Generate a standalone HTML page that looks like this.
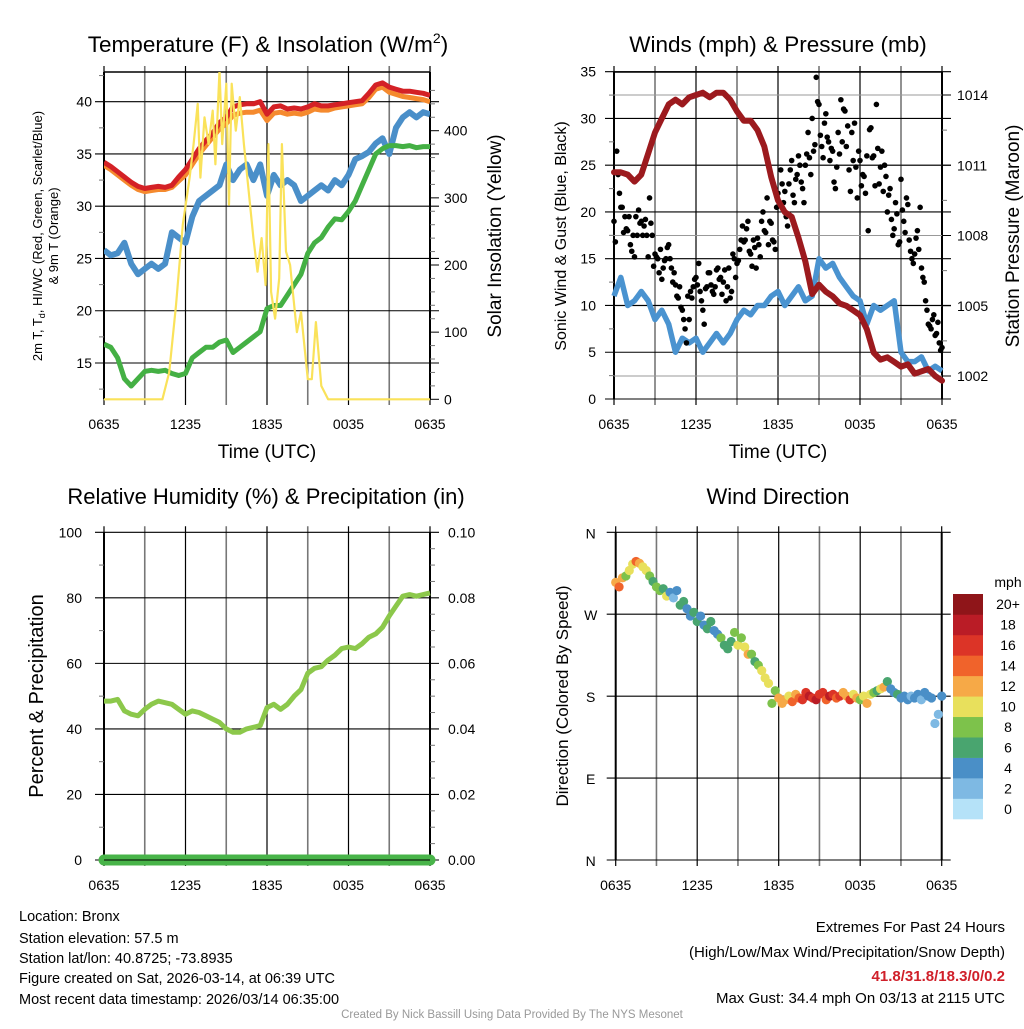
<!DOCTYPE html>
<html><head><meta charset="utf-8"><style>
html,body{margin:0;padding:0;background:#fff;}
svg text{font-family:"Liberation Sans",Arial,sans-serif;fill:#000;}
</style></head><body>
<svg id="fig" xmlns="http://www.w3.org/2000/svg" width="1024" height="1024" viewBox="0 0 1024 1024">
<rect x="0" y="0" width="1024" height="1024" fill="#fff"/>
<g id="p1"></g>
<g id="p2"></g>
<g id="p3"></g>
<g id="p4"></g>
<g id="info" font-size="14.5">
<text x="19" y="921">Location: Bronx</text>
<text x="19" y="943">Station elevation: 57.5 m</text>
<text x="19" y="963">Station lat/lon: 40.8725; -73.8935</text>
<text x="19" y="983">Figure created on Sat, 2026-03-14, at 06:39 UTC</text>
<text x="19" y="1004">Most recent data timestamp: 2026/03/14 06:35:00</text>
</g>
<g font-size="15" text-anchor="end">
<text x="1005" y="932">Extremes For Past 24 Hours</text>
<text x="1005" y="957">(High/Low/Max Wind/Precipitation/Snow Depth)</text>
<text x="1005" y="981" style="fill:#d0202a;font-weight:bold">41.8/31.8/18.3/0/0.2</text>
<text x="1005" y="1003">Max Gust: 34.4 mph On 03/13 at 2115 UTC</text>
</g>
<text x="512" y="1018" text-anchor="middle" font-size="11.5" style="fill:#999">Created By Nick Bassill Using Data Provided By The NYS Mesonet</text>
</svg>
<script>
// ---------- DATA ----------
const xTickLabels = ["0635","1235","1835","0035","0635"];
// Panel 1 (every 0.5 h from 0635)
const tempRed = [34.2,33.8,33.3,32.8,32.3,31.9,31.7,31.8,31.9,31.8,32.0,32.8,33.5,34.5,35.5,36.3,37.0,38.0,38.5,39.5,39.7,39.8,39.8,40.0,38.8,39.5,39.6,39.3,39.4,39.3,39.5,39.8,39.6,39.6,39.7,39.8,39.9,40.0,40.1,40.8,41.6,41.8,41.4,41.2,41.0,41.0,40.9,40.8,40.6];
const temp9m = [33.9,33.5,33.0,32.5,32.0,31.6,31.4,31.5,31.6,31.6,31.8,32.4,33.0,34.0,35.0,35.8,36.6,37.4,37.9,38.7,38.9,39.0,39.0,39.2,38.2,38.9,39.0,38.8,38.9,38.8,39.0,39.3,39.2,39.2,39.4,39.5,39.6,39.7,39.8,40.4,41.2,41.4,40.9,40.7,40.5,40.4,40.3,40.2,40.0];
const windChill = [25.8,25.3,25.5,26.5,24.5,23.5,24.0,24.5,24.0,24.5,27.5,27.0,26.5,29.0,30.5,31.0,31.5,32.0,34.0,32.5,33.5,34.0,32.5,34.0,31.0,33.0,32.0,32.5,32.0,30.5,31.0,31.5,32.0,31.5,32.5,32.0,33.0,34.5,34.8,35.2,36.0,36.5,35.0,37.5,38.5,39.0,38.5,39.0,38.8];
const dewpoint = [16.8,16.5,15.5,13.5,12.8,13.5,14.2,14.3,14.2,14.3,14.0,13.8,14.0,15.5,16.0,16.5,16.5,17.0,17.2,16.0,16.5,17.0,17.5,18.0,20.2,20.5,20.5,21.5,22.5,23.5,25.5,26.5,27.0,28.0,28.8,28.7,29.5,30.5,32.0,33.5,35.0,35.5,35.8,35.8,35.7,35.8,35.6,35.7,35.7];
const solarTimes = [0,4.3,4.8,5.3,5.8,6.3,6.6,6.9,7.1,7.4,7.7,8.0,8.2,8.5,8.7,9.0,9.2,9.4,9.7,10.0,10.3,10.6,11.0,11.3,11.6,11.9,12.1,12.3,12.6,12.9,13.1,13.4,13.7,14.0,14.2,14.5,14.7,15.0,15.3,15.6,16.0,16.5,24];
const solarVals = [0,0,40,140,260,330,380,440,330,420,380,430,350,490,380,470,290,470,400,450,380,320,240,190,240,170,380,160,120,180,380,220,200,140,100,130,90,30,30,115,20,0,0];
const p1LeftTicks = [15,20,25,30,35,40];
const p1RightTicks = [0,100,200,300,400];
// Panel 2
const pressure = [1010.7,1010.7,1010.6,1010.3,1010.6,1011.5,1012.4,1013.0,1013.6,1013.8,1013.6,1013.9,1014.0,1014.1,1013.9,1014.1,1014.1,1013.8,1013.3,1012.9,1012.9,1012.5,1011.8,1010.5,1009.5,1009.0,1008.8,1007.9,1006.9,1005.5,1005.9,1005.6,1005.4,1005.1,1005.0,1004.8,1004.6,1004.0,1003.0,1002.7,1002.8,1002.6,1002.4,1002.5,1002.1,1002.2,1002.3,1002.0,1001.8];
const windSpeed = [11,13,10,10.5,11.5,10.5,8.5,9.5,8,5,6.5,6,6.5,5,6,7,6,7,8.5,9.5,9,10,10,11,11.5,10,11,12,10.5,11,15,14,14.5,13,12,11,10.5,8,10,9.5,10,10.5,5,4,4,4.5,3,3.5,3];
const gustA = [19,26.5,22,20.5,19.5,18,16.5,17.5,19.5,20.2,19,18.5,17.5,21.5,17.5,15.5,15,16,14,15,16.5,14,13.5,11,12,9.5,7.5,11,11.5,12,13,14.5,10.5,8,12,13.5,11.5,12,14,13,12.5,10.5,14,11.5,15,14.5,16,18.5,17,19,15.5,17,14,16.5,19,18,21.5,19,17,16,22,24.5,21,19.5,23,25.5,21,24,25,22.5,25,28.5,24,26.5,34.4,31.5,27,29.5,28,25.5,26.5,22.5,28.5,32,31,27,24.5,28.5,29.5,21.5,25.5,24,22,18,29,26,31.5,23,26.5,25,20,22.5,17.5,21,16.5,23.5,19,21.5,17,15,15.5,18,20.5,13,10.5,8,7.5,9,7,6,5.5];
const gustB = [16.8,24,20.5,17.8,18.2,19.5,15.8,15.2,17.5,18.8,17.5,19.2,15.2,18.8,14.2,15.2,13.5,12.8,14.8,16.2,15,12.5,12.2,10.8,9.8,8.5,6,8.5,10.8,12.8,12.2,11.5,9.5,11.8,13.5,12.2,11.2,13.8,12.8,11.2,13.8,12,10.8,15.5,13,14.8,17,16.8,18.2,15.8,14.2,16.2,17.2,15.2,20,17.8,16.5,18.8,16.8,20.5,20.8,23,22.2,18.5,24.5,21.8,23.5,26,23.2,21,26.2,25.8,30,27.2,31.8,28.2,25.8,30.5,27.5,26.8,23.2,24.8,26.2,27.5,30.8,29.2,22.2,25.5,24.8,26.5,22.8,23.8,26,28.8,25.8,22.8,26.8,24.8,22.2,23.8,21.8,19.2,18.2,19.8,16.8,20.2,17.8,20.8,15.8,14.5,17.2,16,14,12.5,9.5,7.8,8.5,6.8,8.2,5.2];
const p2LeftTicks = [0,5,10,15,20,25,30,35];
const p2RightTicks = [1002,1005,1008,1011,1014];
// Panel 3
const relHum = [48.5,48.5,49,45.5,44.5,44,46,47.5,48.5,48,47.5,46,44.5,45.5,45,44,43,42,40,39,39,40,40.5,41,46.5,47.5,46,47.5,50,52,57,58.5,59,61,62.5,64.5,65,64.5,66,68,69,71,74.5,77.5,80.5,81,80.5,81,81.5];
const precip = [0,0,0,0,0,0,0,0,0,0,0,0,0,0,0,0,0,0,0,0,0,0,0,0,0];
const p3LeftTicks = [0,20,40,60,80,100];
const p3RightTicks = ["0.00","0.02","0.04","0.06","0.08","0.10"];
// Panel 4 (every 0.25 h)
const windDir = [305,300,310,312,318,325,328,326,322,318,312,306,300,296,298,290,294,288,296,280,284,276,268,272,262,268,258,254,262,252,248,244,236,232,240,250,236,244,234,226,226,218,214,208,200,194,172,186,178,172,176,180,174,182,178,176,184,180,178,176,182,184,176,180,182,178,180,184,180,176,182,178,176,180,172,182,184,186,188,190,196,188,184,182,178,180,176,180,178,182,176,184,180,178,150,160,180];
const dirSpeed = [12,14,13,9,11,10,14,12,10,11,8,7,9,8,6,10,4,3,5,7,6,4,5,6,7,5,4,6,7,5,4,8,7,6,7,8,10,8,11,13,8,7,9,10,10,11,8,9,12,13,12,10,14,13,15,16,17,18,16,19,16,17,15,18,17,15,16,13,12,16,11,13,8,10,12,10,9,6,10,12,7,5,4,6,4,5,4,3,4,5,3,4,4,5,2,2,4];
const dirTickLabels = ["N","E","S","W","N"];
const cbarLabels = ["0","2","4","6","8","10","12","14","16","18","20+"];
const cbarColors = ["#b5e2f8","#7eb9e3","#4a8fc7","#49a56f","#7dc24b","#e8e05c","#f6a947","#f0632b","#dc3427","#ba1c26","#8f1519"];

// ---------- HELPERS ----------
const NS="http://www.w3.org/2000/svg";
function mk(parent,tag,attrs,txt){const e=document.createElementNS(NS,tag);for(const k in attrs)e.setAttribute(k,attrs[k]);if(txt!==undefined)e.textContent=txt;parent.appendChild(e);return e;}
function linScale(d0,d1,r0,r1){return v=>r0+(v-d0)*(r1-r0)/(d1-d0);}
function pathFrom(xs,ys){let d="";for(let i=0;i<xs.length;i++)d+=(i?"L":"M")+xs[i].toFixed(1)+","+ys[i].toFixed(1);return d;}
function idxTimes(arr){return arr.map((v,i)=>i*24/(arr.length-1));}

function frame(g,L,R,T,B,xs,opts){
  for(let k=0;k<=8;k++){const x=xs(k*3);
    const l=mk(g,"line",{x1:x,x2:x,y1:T-6,y2:B+6,stroke:k%2?"#777":"#000","stroke-width":k%2?1.6:1.2});
    }
  xTickLabels.forEach((s,i)=>{const t=mk(g,"text",{x:xs(i*6),y:B+30,"text-anchor":"middle","font-size":14},s);
    });
  if(opts.top){const l=mk(g,"line",{x1:L,x2:R,y1:T,y2:T,stroke:"#000","stroke-width":1.5});}
  mk(g,"line",{x1:L,x2:L,y1:T,y2:B,stroke:"#000","stroke-width":2});
  mk(g,"line",{x1:R,x2:R,y1:T,y2:B,stroke:"#000","stroke-width":2});
}
function hgrid(g,L,R,y,name){const l=mk(g,"line",{x1:L-9,x2:R+9,y1:y,y2:y,stroke:"#000","stroke-width":1.1});
  }
function minor(g,x,y,dir){mk(g,"line",{x1:x,x2:x+dir*5,y1:y,y2:y,stroke:"#777","stroke-width":1});}

// ---------- PANEL 1 ----------
(function(){
 const g=document.getElementById("p1");const L=104,R=430,T=72,B=399;
 const xs=linScale(0,24,L,R), yT=linScale(15,40,363,101.7), yS=linScale(0,400,399.3,130.7);
 frame(g,L,R,T,B,xs,{top:true});
 p1LeftTicks.forEach(v=>{hgrid(g,L,R,yT(v),'y-grid-line');const t=mk(g,"text",{x:L-12,y:yT(v)+5,"text-anchor":"end","font-size":14},v);});
 for(let v=12.5;v<43;v+=5)minor(g,L,yT(v),-1);
 p1RightTicks.forEach(v=>{mk(g,"line",{x1:R,x2:R+9,y1:yS(v),y2:yS(v),stroke:"#000"});const t=mk(g,"text",{x:R+14,y:yS(v)+5,"font-size":14},v);});
 for(let v=20;v<480;v+=20)if(v%100)minor(g,R,yS(v),1);
 const cp=mk(g,"clipPath",{id:"c1"});mk(cp,"rect",{x:L,y:T,width:R-L,height:B-T+3});
 const pg=mk(g,"g",{"clip-path":"url(#c1)"});
 const s1=mk(pg,"path",{d:pathFrom(idxTimes(windChill).map(xs),windChill.map(yT)),fill:"none",stroke:"#4a8fc9","stroke-width":6,"stroke-linejoin":"round"});
 
 const s2=mk(pg,"path",{d:pathFrom(idxTimes(dewpoint).map(xs),dewpoint.map(yT)),fill:"none",stroke:"#44b044","stroke-width":5,"stroke-linejoin":"round"});
 
 const s3=mk(pg,"path",{d:pathFrom(idxTimes(temp9m).map(xs),temp9m.map(yT)),fill:"none",stroke:"#f58a2e","stroke-width":5,"stroke-linejoin":"round"});
 
 const s4=mk(pg,"path",{d:pathFrom(idxTimes(tempRed).map(xs),tempRed.map(yT)),fill:"none",stroke:"#d42126","stroke-width":5,"stroke-linejoin":"round"});
 
 const s5=mk(pg,"path",{d:pathFrom(solarTimes.map(xs),solarVals.map(yS)),fill:"none",stroke:"#fae25a","stroke-width":2.2,"stroke-linejoin":"round"});
 
 const tt=mk(g,"text",{x:268,y:52,"text-anchor":"middle","font-size":22.5});
 tt.innerHTML='Temperature (F) &amp; Insolation (W/m<tspan dy="-9" font-size="14">2</tspan><tspan dy="9">)</tspan>';
 const xt=mk(g,"text",{x:267,y:458,"text-anchor":"middle","font-size":19},"Time (UTC)");
 const yl=mk(g,"text",{transform:"translate(42,236) rotate(-90)","text-anchor":"middle","font-size":13});
 yl.innerHTML='2m T, T<tspan dy="3" font-size="9">d</tspan><tspan dy="-3">, HI/WC (Red, Green, Scarlet/Blue)</tspan>';
 const yl2=mk(g,"text",{transform:"translate(58,236) rotate(-90)","text-anchor":"middle","font-size":13},"& 9m T (Orange)");
 const yr=mk(g,"text",{transform:"translate(501,236) rotate(-90)","text-anchor":"middle","font-size":19},"Solar Insolation (Yellow)");
})();

// ---------- PANEL 2 ----------
(function(){
 const g=document.getElementById("p2");const L=614,R=942,T=72,B=399;
 const xs=linScale(0,24,L,R), yW=linScale(0,35,399,71.7), yP=linScale(1002,1014,376,95);
 frame(g,L,R,T,B,xs,{top:true});
 p2RightTicks.forEach(v=>{mk(g,"line",{x1:L,x2:R,y1:yP(v),y2:yP(v),stroke:"#999","stroke-width":1});});
 p2LeftTicks.forEach(v=>{hgrid(g,L,R,yW(v),'y-grid-line');const t=mk(g,"text",{x:L-18,y:yW(v)+5,"text-anchor":"end","font-size":14},v);});
 for(let v=2.5;v<35;v+=5)minor(g,L,yW(v),-1);
 p2RightTicks.forEach(v=>{mk(g,"line",{x1:R,x2:R+9,y1:yP(v),y2:yP(v),stroke:"#000"});const t=mk(g,"text",{x:R+15,y:yP(v)+5,"font-size":14},v);});
 for(let v=1003.5;v<1015;v+=3)minor(g,R,yP(v),1);
 const cp=mk(g,"clipPath",{id:"c2"});mk(cp,"rect",{x:L-3,y:T,width:R-L+6,height:B-T});
 const pg=mk(g,"g",{"clip-path":"url(#c2)"});
 const w=mk(pg,"path",{d:pathFrom(idxTimes(windSpeed).map(xs),windSpeed.map(yW)),fill:"none",stroke:"#4a93d0","stroke-width":5.5,"stroke-linejoin":"round"});
 
 const gt=idxTimes(gustA);
 gustA.forEach((v,i)=>{const c=mk(pg,"circle",{cx:xs(gt[i]),cy:yW(v),r:2.8,fill:"#000"});});
 gustB.forEach((v,i)=>{const c=mk(pg,"circle",{cx:xs(i*0.2+0.1),cy:yW(v),r:2.8,fill:"#000"});});
 const p=mk(pg,"path",{d:pathFrom(idxTimes(pressure).map(xs),pressure.map(yP)),fill:"none",stroke:"#9c1a1e","stroke-width":6,"stroke-linejoin":"round","stroke-linecap":"round"});
 
 const tt=mk(g,"text",{x:778,y:52,"text-anchor":"middle","font-size":22.5},"Winds (mph) & Pressure (mb)");
 const xt=mk(g,"text",{x:778,y:458,"text-anchor":"middle","font-size":19},"Time (UTC)");
 const yl=mk(g,"text",{transform:"translate(566,236) rotate(-90)","text-anchor":"middle","font-size":16},"Sonic Wind & Gust (Blue, Black)");
 const yr=mk(g,"text",{transform:"translate(1019,236) rotate(-90)","text-anchor":"middle","font-size":19},"Station Pressure (Maroon)");
})();

// ---------- PANEL 3 ----------
(function(){
 const g=document.getElementById("p3");const L=104,R=430,T=532.3,B=860;
 const xs=linScale(0,24,L,R), yR=linScale(0,100,860,532.3);
 frame(g,L,R,T,B,xs,{top:false});
 p3LeftTicks.forEach(v=>{hgrid(g,L,R,yR(v),'y-grid-line');const t=mk(g,"text",{x:L-22,y:yR(v)+5,"text-anchor":"end","font-size":14},v);});
 p3RightTicks.forEach((s,i)=>{const t=mk(g,"text",{x:R+18,y:yR(i*20)+5,"font-size":14},s);});
 for(let v=10;v<100;v+=20){minor(g,L,yR(v),-1);}
 for(let v=5;v<100;v+=5)if(v%20)minor(g,R,yR(v),1);
 const pr=mk(g,"path",{d:pathFrom(idxTimes(precip).map(xs),precip.map(v=>yR(v*1000))),fill:"none",stroke:"#48b449","stroke-width":11,"stroke-linecap":"round"});
 
 mk(g,"line",{x1:L,x2:R,y1:B,y2:B,stroke:"#000","stroke-width":1});
 const rh=mk(g,"path",{d:pathFrom(idxTimes(relHum).map(xs),relHum.map(yR)),fill:"none",stroke:"#8cc84b","stroke-width":5,"stroke-linejoin":"round"});
 
 const tt=mk(g,"text",{x:266,y:504,"text-anchor":"middle","font-size":22},"Relative Humidity (%) & Precipitation (in)");
 const yl=mk(g,"text",{transform:"translate(43,696) rotate(-90)","text-anchor":"middle","font-size":20},"Percent & Precipitation");
})();

// ---------- PANEL 4 ----------
(function(){
 const g=document.getElementById("p4");const L=615.7,R=941.7,T=532.3,B=860;
 const xs=linScale(0,24,L,R), yD=linScale(0,360,860,532.3);
 frame(g,L,R,T,B,xs,{top:false});
 dirTickLabels.forEach((s,i)=>{hgrid(g,L,R,yD(i*90),'y-grid-line');const t=mk(g,"text",{x:L-25,y:yD(i*90)+6,"text-anchor":"middle","font-size":14},s);});
 const colorOf=s=>cbarColors[Math.max(0,Math.min(10,Math.floor(s/2)))];
 const dt=idxTimes(windDir);
 windDir.forEach((d,i)=>{const c=mk(g,"circle",{cx:xs(dt[i]),cy:yD(d),r:4.6,fill:colorOf(dirSpeed[i])});});
 const cb=mk(g,"g",{});
 const h=(819-594)/11;
 cbarColors.forEach((c,i)=>{const y=819-(i+1)*h;const r=mk(cb,"rect",{x:953,y:y,width:30,height:h+0.3,fill:c});
   const t=mk(cb,"text",{x:1008,y:y+h/2+5,"text-anchor":"middle","font-size":14},cbarLabels[i]);});
 const mph=mk(cb,"text",{x:1008,y:587,"text-anchor":"middle","font-size":14},"mph");
 const tt=mk(g,"text",{x:778,y:504,"text-anchor":"middle","font-size":22},"Wind Direction");
 const yl=mk(g,"text",{transform:"translate(568,696) rotate(-90)","text-anchor":"middle","font-size":17},"Direction (Colored By Speed)");
})();
</script>
</body></html>
